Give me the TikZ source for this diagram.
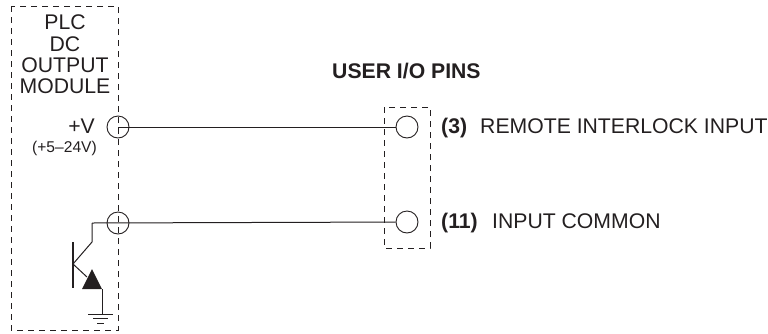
\documentclass[tikz,border=0pt]{standalone}
\usepackage{fontspec}
\setmainfont{Liberation Sans}
\definecolor{inkcol}{HTML}{231F20}
\newcommand{\labsize}{\fontsize{21.2}{23}\selectfont}
\tikzset{
	pin/.style={draw=inkcol,circle,minimum size=22pt,inner sep=0pt,line width=0.9pt},
	boxline/.style={draw=inkcol,dashed,dash pattern=on 6pt off 5pt,line width=0.9pt},
	wire/.style={draw=inkcol,line width=1pt},
	lab/.style={text=inkcol,inner sep=0pt,anchor=base west,font=\labsize},
	boldlab/.style={lab,font=\labsize\bfseries}
}
\begin{document}
\begin{tikzpicture}[x=1pt,y=-1pt]
		\useasboundingbox (0,0) rectangle (768,333);
		
		\draw[boxline] (11,6) rectangle (118,330);
		\draw[boxline] (384,107) rectangle (430,248);
		
		\node[pin] (modtop) at (118,127) {};
		\node[pin] (modbot) at (118,223) {};
		\node[pin] (pintop) at (407,127) {};
		\node[pin] (pinbot) at (407,222) {};
		\coordinate (coll) at (92,223);
		\coordinate (base) at (73,264);
		\coordinate (emit) at (102,289);
		\coordinate (gnd) at (102,314);
		
		\draw[wire] (modtop.center) -- (pintop);
		\draw[wire] (coll) -- (pinbot);
		\draw[wire] (coll) -- (92,242) -- (base);
		\draw[wire] (base) -- (87,277);
		\draw[wire,line width=1.4pt] (73,242) -- (73,288);
		\fill[inkcol] (82,289) -- (92,269) -- (emit) -- cycle;
		\draw[wire] (emit) -- (gnd);
		
		% ground
		\draw[wire] (88,314) -- (113,314);
		\draw[wire] (93,318.5) -- (108,318.5);
		\draw[wire] (97,323) -- (104,323);
		
		\node[lab,anchor=base] (plc) at (65,29) {PLC};
		\node[lab,anchor=base] (dc) at (65,51) {DC};
		\node[lab,anchor=base] (output) at (65,72) {OUTPUT};
		\node[lab,anchor=base] (module) at (65,93) {MODULE};
		\node[lab,anchor=base east] (plusv) at (95,133) {+V};
		\node[lab,anchor=base east,font=\fontsize{15.6}{17}\selectfont] (range) at (97,152) {(+5–24V)};
		
		\node[boldlab] (title) at (332,78) {USER I/O PINS};
		\node[boldlab] (num3) at (441,133) {(3)};
		\node[lab] (remote) at (480,133) {REMOTE INTERLOCK INPUT};
		\node[boldlab] (num11) at (441,228) {(11)};
		\node[lab] (common) at (492,228) {INPUT COMMON};
\end{tikzpicture}
\end{document}
